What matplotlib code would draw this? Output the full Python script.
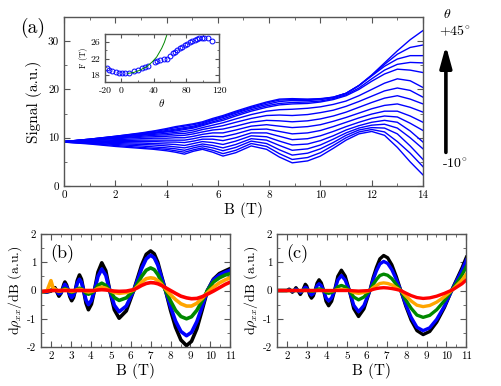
import matplotlib
matplotlib.use("Agg")
import matplotlib.pyplot as plt
from matplotlib.ticker import MultipleLocator

plt.rcParams['font.family'] = 'cmr10'
plt.rcParams['mathtext.fontset'] = 'cm'
plt.rcParams['axes.unicode_minus'] = False
plt.rcParams['axes.formatter.use_mathtext'] = False

# ---- panel (a): signal vs B, one curve per tilt angle ----
b_grid = [0, 1, 2, 3, 3.5, 4, 4.35, 4.7, 5.05, 5.4, 5.8, 6.2, 6.7, 7.3, 7.9,
          8.4, 8.9, 9.5, 10, 10.5, 11, 11.5, 12, 12.5, 13, 13.5, 14]

signal_curves = [
    [9.1, 8.7, 8.2, 7.8, 7.6, 7.3, 7.0, 6.6, 7.2, 7.6, 7.0, 6.2, 6.9, 8.3, 7.6, 6.0, 4.8, 5.2, 6.2, 7.8, 9.5, 10.8, 11.3, 10.5, 8.0, 5.0, 2.3],
    [9.1, 8.8, 8.4, 8.0, 7.8, 7.6, 7.3, 7.0, 7.5, 7.9, 7.4, 6.7, 7.4, 8.8, 8.2, 6.7, 5.5, 5.9, 6.9, 8.4, 10.0, 11.2, 11.7, 11.2, 9.2, 6.8, 4.0],
    [9.1, 8.9, 8.6, 8.3, 8.1, 7.9, 7.7, 7.4, 7.9, 8.3, 7.9, 7.3, 8.0, 9.3, 8.8, 7.5, 6.4, 6.8, 7.7, 9.0, 10.5, 11.6, 12.1, 12.0, 10.8, 8.3, 5.5],
    [9.1, 9.0, 8.8, 8.6, 8.5, 8.3, 8.1, 7.9, 8.3, 8.7, 8.4, 7.9, 8.6, 9.8, 9.5, 8.4, 7.4, 7.7, 8.5, 9.7, 11.0, 12.0, 12.6, 12.8, 12.0, 10.0, 7.7],
    [9.2, 9.1, 9.0, 8.9, 8.8, 8.7, 8.6, 8.4, 8.8, 9.2, 9.0, 8.6, 9.3, 10.4, 10.2, 9.3, 8.5, 8.7, 9.4, 10.4, 11.6, 12.5, 13.2, 13.6, 13.2, 11.4, 9.1],
    [9.2, 9.2, 9.2, 9.2, 9.2, 9.1, 9.1, 9.0, 9.3, 9.7, 9.7, 9.4, 10.0, 11.0, 11.0, 10.3, 9.6, 9.8, 10.4, 11.3, 12.3, 13.2, 14.0, 14.5, 14.3, 13.0, 11.5],
    [9.2, 9.3, 9.4, 9.5, 9.5, 9.5, 9.5, 9.5, 9.8, 10.2, 10.3, 10.2, 10.8, 11.7, 11.8, 11.3, 10.8, 11.0, 11.5, 12.3, 13.2, 14.1, 14.9, 15.5, 15.5, 14.5, 13.2],
    [9.2, 9.4, 9.6, 9.8, 9.9, 9.9, 10.0, 10.0, 10.3, 10.7, 11.0, 11.0, 11.6, 12.4, 12.7, 12.4, 12.1, 12.3, 12.7, 13.4, 14.2, 15.1, 16.0, 16.7, 17.0, 16.3, 15.3],
    [9.2, 9.5, 9.8, 10.1, 10.2, 10.3, 10.4, 10.5, 10.8, 11.2, 11.6, 11.8, 12.4, 13.2, 13.6, 13.5, 13.3, 13.5, 13.9, 14.5, 15.3, 16.3, 17.3, 18.2, 18.7, 18.0, 17.0],
    [9.2, 9.5, 9.9, 10.3, 10.5, 10.6, 10.8, 10.9, 11.2, 11.7, 12.1, 12.5, 13.2, 14.0, 14.6, 14.7, 14.6, 14.8, 15.2, 15.7, 16.5, 17.5, 18.6, 19.7, 20.3, 19.8, 18.4],
    [9.2, 9.6, 10.0, 10.5, 10.7, 10.9, 11.1, 11.3, 11.6, 12.1, 12.6, 13.1, 13.9, 14.8, 15.5, 15.8, 15.9, 16.1, 16.4, 16.9, 17.6, 18.7, 20.0, 21.3, 22.2, 21.8, 20.4],
    [9.2, 9.6, 10.1, 10.6, 10.9, 11.2, 11.4, 11.7, 12.0, 12.5, 13.1, 13.6, 14.5, 15.5, 16.3, 16.8, 17.0, 17.1, 17.4, 17.9, 18.7, 20.0, 21.7, 23.2, 24.2, 24.0, 23.5],
    [9.2, 9.6, 10.2, 10.7, 11.0, 11.3, 11.6, 11.9, 12.2, 12.7, 13.3, 13.9, 14.8, 15.8, 16.6, 17.1, 17.3, 17.4, 17.6, 18.1, 18.9, 20.3, 22.2, 24.0, 25.2, 25.6, 25.5],
    [9.2, 9.7, 10.2, 10.8, 11.1, 11.5, 11.8, 12.1, 12.4, 12.9, 13.6, 14.2, 15.1, 16.1, 16.9, 17.5, 17.7, 17.7, 17.9, 18.3, 19.2, 20.8, 22.8, 24.8, 26.3, 27.0, 27.0],
    [9.2, 9.7, 10.3, 10.9, 11.3, 11.7, 12.1, 12.4, 12.7, 13.1, 13.8, 14.4, 15.3, 16.3, 17.2, 17.8, 17.9, 17.9, 18.0, 18.4, 19.2, 20.8, 22.9, 25.2, 27.3, 28.7, 29.2],
    [9.2, 9.7, 10.3, 11.0, 11.4, 11.9, 12.3, 12.6, 12.9, 13.3, 14.0, 14.6, 15.5, 16.5, 17.4, 18.0, 18.1, 18.0, 18.1, 18.4, 19.2, 20.8, 23.0, 25.5, 28.0, 30.3, 32.2],
]

# inset: frequency vs angle
theta_pts = [-18, -15, -11, -7, -3, 1, 5, 9, 16, 21, 26, 29, 33, 41, 44, 48, 52, 56,
             60, 63, 66, 69, 72, 75, 78, 81, 84, 87, 90, 93, 96, 99, 102, 107, 111]
freq_pts = [19.7, 19.3, 18.9, 18.7, 18.6, 18.5, 18.5, 18.6, 19.0, 19.2, 19.6, 19.9, 20.1,
            21.1, 21.4, 21.6, 21.8, 21.9, 22.6, 23.4, 23.7, 24.1, 24.6, 24.9, 25.3, 25.6,
            26.0, 26.3, 26.5, 26.8, 26.9, 27.0, 26.9, 26.9, 26.3]
theta_fit = [8, 15, 22, 31, 38, 43.5, 49.6, 53, 56]
freq_fit = [18.4, 18.6, 19.1, 20.0, 21.2, 22.4, 24.5, 26.0, 27.8]

# ---- panel (b): measured derivative ----
b_exp = [1.5, 1.8, 2.0, 2.1, 2.2, 2.3, 2.4, 2.5, 2.6, 2.65, 2.7, 2.78, 2.87, 2.95, 3.04,
         3.13, 3.22, 3.32, 3.43, 3.53, 3.64, 3.76, 3.88, 4.03, 4.18, 4.36, 4.55, 4.75,
         4.95, 5.18, 5.42, 5.78, 6.15, 6.35, 6.55, 6.78, 7.0, 7.18, 7.36, 7.55, 7.75,
         8.0, 8.25, 8.52, 8.8, 9.05, 9.32, 9.58, 9.85, 10.15, 10.45, 10.75, 11.0]
exp_black = [-0.05, -0.05, -0.02, 0.05, 0.1, -0.05, -0.2, -0.1, 0.1, 0.22, 0.3, 0.2, 0, -0.22, -0.36,
             -0.25, 0, 0.35, 0.55, 0.4, 0, -0.45, -0.68, -0.48, 0, 0.65, 0.98, 0.7,
             0, -0.68, -0.98, -0.72, 0, 0.45, 0.9, 1.28, 1.4, 1.3, 1.0, 0.5, 0,
             -0.7, -1.3, -1.75, -1.95, -1.8, -1.35, -0.7, 0, 0.4, 0.6, 0.7, 0.78]
exp_blue = [-0.05, -0.05, 0, 0.05, 0.05, -0.03, -0.12, -0.08, 0.05, 0.15, 0.22, 0.14, 0, -0.15, -0.25,
            -0.17, 0, 0.26, 0.4, 0.29, 0, -0.34, -0.5, -0.35, 0, 0.5, 0.76, 0.54,
            0, -0.52, -0.75, -0.55, 0, 0.38, 0.78, 1.12, 1.25, 1.16, 0.9, 0.45, 0,
            -0.58, -1.08, -1.45, -1.6, -1.48, -1.1, -0.58, 0, 0.38, 0.55, 0.65, 0.72]
exp_green = [-0.05, -0.03, 0, 0.02, 0.02, 0, -0.03, -0.02, 0.02, 0.05, 0.07, 0.04, 0, -0.04, -0.06,
             -0.04, 0, 0.05, 0.08, 0.06, 0, -0.09, -0.13, -0.09, 0, 0.18, 0.26, 0.18,
             0, -0.25, -0.35, -0.26, 0, 0.25, 0.5, 0.72, 0.8, 0.74, 0.57, 0.3, 0,
             -0.37, -0.7, -0.92, -1.0, -0.93, -0.7, -0.37, 0, 0.3, 0.45, 0.55, 0.6]
exp_orange = [-0.05, -0.02, 0.35, 0.1, 0.05, 0, -0.02, -0.01, 0.01, 0.02, 0.03, 0.02, 0, -0.02, -0.03,
              -0.02, 0, 0.03, 0.04, 0.03, 0, -0.03, -0.05, -0.03, 0, 0.08, 0.12, 0.08,
              0, -0.07, -0.1, -0.07, 0.02, 0.15, 0.3, 0.42, 0.45, 0.43, 0.35, 0.22, 0.05,
              -0.15, -0.32, -0.47, -0.55, -0.55, -0.45, -0.28, -0.08, 0.12, 0.27, 0.38, 0.45]
exp_red = [-0.03, -0.02, 0, 0, 0, 0, 0, 0, 0, 0, 0, 0, 0, 0, 0,
           0, 0, 0, 0, 0, 0, 0, 0, 0, 0, 0.02, 0.03, 0.02,
           0, -0.02, -0.03, -0.02, 0.03, 0.1, 0.18, 0.25, 0.28, 0.27, 0.24, 0.18, 0.1,
           0, -0.1, -0.2, -0.26, -0.29, -0.28, -0.22, -0.13, -0.02, 0.1, 0.22, 0.3]

# ---- panel (c): simulated derivative ----
b_sim = [1.5, 2.0, 2.11, 2.19, 2.27, 2.36, 2.45, 2.55, 2.67, 2.79, 2.92, 2.99, 3.07, 3.15,
         3.23, 3.32, 3.41, 3.51, 3.61, 3.72, 3.84, 3.96, 4.09, 4.24, 4.39, 4.55, 4.73,
         4.92, 5.13, 5.35, 5.59, 5.86, 6.16, 6.32, 6.49, 6.66, 6.85, 7.05, 7.26, 7.48,
         7.71, 7.96, 8.23, 8.52, 8.83, 9.16, 9.51, 9.90, 10.32, 10.78, 11.0]
sim_black = [0, 0, 0.05, 0, -0.06, 0, 0.1, 0, -0.14, 0, 0.22, 0.16, 0, -0.18,
             -0.27, -0.19, 0, 0.26, 0.38, 0.27, 0, -0.38, -0.54, -0.38, 0, 0.5, 0.72,
             0.51, 0, -0.64, -0.92, -0.65, 0, 0.45, 0.82, 1.12, 1.24, 1.16, 0.91, 0.5,
             0, -0.55, -1.05, -1.42, -1.56, -1.45, -1.12, -0.6, 0.1, 0.8, 1.18]
sim_blue = [0, 0, 0.02, 0, -0.03, 0, 0.05, 0, -0.07, 0, 0.12, 0.09, 0, -0.1,
            -0.16, -0.11, 0, 0.17, 0.24, 0.17, 0, -0.26, -0.37, -0.26, 0, 0.37, 0.53,
            0.37, 0, -0.52, -0.75, -0.53, 0, 0.38, 0.7, 0.94, 1.03, 0.96, 0.74, 0.4,
            0, -0.5, -0.95, -1.3, -1.42, -1.32, -1.02, -0.55, 0.08, 0.72, 1.08]
sim_green = [0, 0, 0, 0, 0, 0, 0, 0, -0.01, 0, 0.02, 0.01, 0, -0.02,
             -0.03, -0.02, 0, 0.04, 0.06, 0.04, 0, -0.07, -0.1, -0.07, 0, 0.13, 0.18,
             0.13, 0, -0.23, -0.33, -0.23, 0, 0.21, 0.39, 0.53, 0.58, 0.54, 0.42, 0.22,
             0, -0.33, -0.63, -0.87, -0.95, -0.88, -0.68, -0.36, 0.06, 0.55, 0.85]
sim_orange = [0, 0, 0, 0, 0, 0, 0, 0, 0, 0, 0, 0, 0, 0,
              0, 0, 0, 0, 0.01, 0, 0, -0.01, -0.02, -0.01, 0, 0.03, 0.04,
              0.03, 0, -0.07, -0.1, -0.07, 0, 0.1, 0.18, 0.25, 0.27, 0.25, 0.2, 0.1,
              0, -0.19, -0.37, -0.52, -0.57, -0.53, -0.41, -0.22, 0.04, 0.37, 0.58]
sim_red = [0, 0, 0, 0, 0, 0, 0, 0, 0, 0, 0, 0, 0, 0,
           0, 0, 0, 0, 0, 0, 0, 0, 0, 0, 0, 0, 0,
           0, 0, -0.01, -0.02, -0.01, 0, 0.04, 0.07, 0.09, 0.1, 0.09, 0.07, 0.04,
           0, -0.09, -0.18, -0.25, -0.28, -0.26, -0.2, -0.1, 0.03, 0.24, 0.38]

line_colors = ['black', '#0000ff', '#008800', '#ffa500', '#ff0000']
frame = '#555555'


def style_axes(ax, size=8):
    for s in ax.spines.values():
        s.set_color(frame)
        s.set_linewidth(1.0)
    ax.tick_params(which='both', direction='in', top=True, right=True,
                   colors=frame, labelcolor='black', labelsize=size)
    ax.tick_params(which='major', length=4)
    ax.tick_params(which='minor', length=2)


fig = plt.figure(figsize=(5.01, 3.86), dpi=100)

# panel (a)
ax = fig.add_axes([0.1277, 0.5181, 0.7166, 0.4378])
for curve in signal_curves:
    ax.plot(b_grid, curve, color='#0000ff', lw=1.0)
ax.set_xlim(0, 14)
ax.set_ylim(0, 35)
ax.xaxis.set_major_locator(MultipleLocator(2))
ax.xaxis.set_minor_locator(MultipleLocator(1))
ax.yaxis.set_major_locator(MultipleLocator(10))
ax.yaxis.set_minor_locator(MultipleLocator(5))
style_axes(ax)
ax.set_xlabel('B (T)', fontsize=11, labelpad=1)
ax.set_ylabel('Signal (a.u.)', fontsize=11, labelpad=4)
fig.text(0.066, 0.928, '(a)', fontsize=14, ha='center', va='center')

# inset
ins = fig.add_axes([0.2096, 0.7876, 0.2275, 0.1244])
ins.plot(theta_pts, freq_pts, 'o', color='#0000ff', mfc='none', ms=3.5, mew=0.7)
ins.plot(theta_fit, freq_fit, color='#008800', lw=0.7)
ins.set_xlim(-20, 120)
ins.set_ylim(16.3, 28)
ins.set_xticks([-20, 0, 40, 80, 120])
ins.xaxis.set_minor_locator(MultipleLocator(20))
ins.set_yticks([18, 22, 26])
ins.yaxis.set_minor_locator(MultipleLocator(2))
style_axes(ins, size=7)
ins.tick_params(which='major', length=3)
ins.tick_params(which='minor', length=1.5)
ins.set_xlabel(r'$\theta$', fontsize=8, labelpad=1)
ins.set_ylabel('F (T)', fontsize=6, labelpad=2)

# angle arrow
fig.text(0.892, 0.962, r'$\theta$', fontsize=10, ha='center', va='center')
fig.text(0.908, 0.920, r'+45$^{\circ}$', fontsize=10, ha='center', va='center')
fig.text(0.908, 0.575, r'-10$^{\circ}$', fontsize=10, ha='center', va='center')
fig.add_artist(matplotlib.patches.FancyArrowPatch(
    (0.890, 0.598), (0.890, 0.889), transform=fig.transFigure,
    arrowstyle='-|>,head_width=0.22,head_length=0.8', mutation_scale=16,
    lw=2.6, color='black'))

# panels (b) and (c)
exp_sets = [exp_black, exp_blue, exp_green, exp_orange, exp_red]
sim_sets = [sim_black, sim_blue, sim_green, sim_orange, sim_red]
panels = [(0.0818, b_exp, exp_sets, '(b)', 2.6), (0.5529, b_sim, sim_sets, '(c)', 2.4)]
for left, bx, sets, tag, lw in panels:
    axp = fig.add_axes([left, 0.101, 0.378, 0.2927])
    for vals, col in zip(sets, line_colors):
        axp.plot(bx, vals, color=col, lw=lw)
    axp.set_xlim(1.5, 11)
    axp.set_ylim(-2, 2)
    axp.xaxis.set_major_locator(MultipleLocator(1))
    axp.xaxis.set_minor_locator(MultipleLocator(0.5))
    axp.yaxis.set_major_locator(MultipleLocator(1))
    axp.yaxis.set_minor_locator(MultipleLocator(0.5))
    style_axes(axp)
    axp.set_xlabel('B (T)', fontsize=11, labelpad=1)
    axp.set_ylabel(r'd$\rho_{xx}$/dB (a.u.)', fontsize=10, labelpad=2)
    axp.text(0.05, 0.83, tag, transform=axp.transAxes, fontsize=13,
             ha='left', va='center')

fig.savefig('out.png', dpi=100)
